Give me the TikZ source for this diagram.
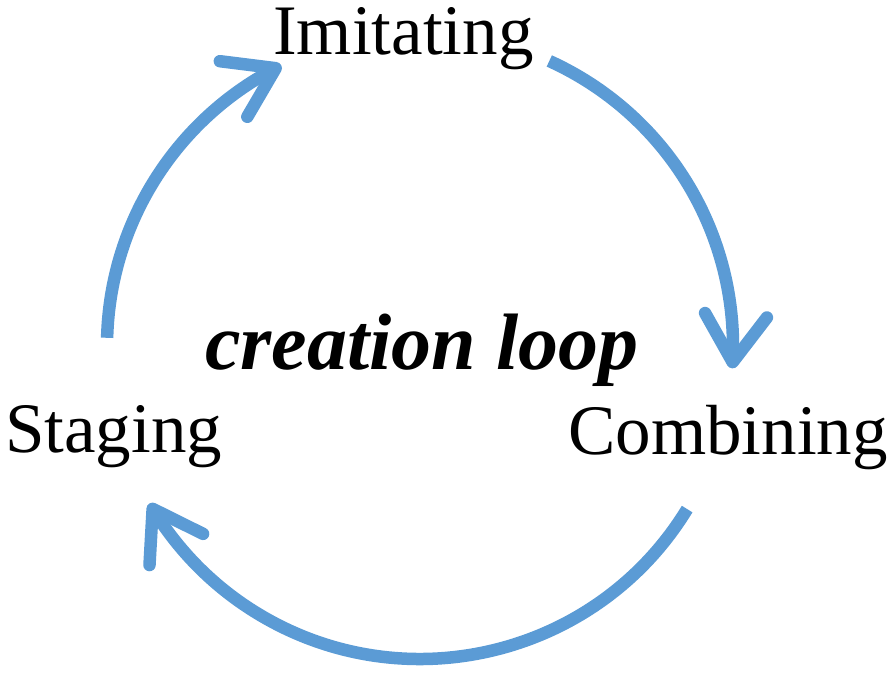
\documentclass[tikz,border=0pt]{standalone}
\usepackage{fontspec}
\setmainfont{Liberation Serif}
\usetikzlibrary{arrows.meta,bending}
\definecolor{loopblue}{HTML}{5B9BD5}
\begin{document}
\begin{tikzpicture}[x=1pt,y=1pt,
  lbl/.style={anchor=base west, inner sep=0pt, font=\fontsize{71}{80}\selectfont},
  title/.style={anchor=base west, inner sep=0pt, font=\fontsize{80}{90}\selectfont\bfseries\itshape},
  loopline/.style={draw=loopblue, line width=12.5pt,
    -{Straight Barb[length=47pt, width=62pt, round, flex]}}]
\useasboundingbox (0,0) rectangle (894,677);
\node[lbl] (imit) at (273,622) {Imitating};
\node[lbl] (stag) at (5,224) {Staging};
\node[lbl] (comb) at (568,222) {Combining};
\node[title] (loop) at (205,307) {creation loop};
\coordinate (c) at (420,331);
\coordinate (s1) at ([shift={(178.5:313)}]c);
\coordinate (s2) at ([shift={(65.6:313)}]c);
\coordinate (s3) at ([shift={(-31.4:313)}]c);
\draw[loopline] (s1) arc[start angle=178.5, end angle=116.3, radius=313];
\draw[loopline] (s2) arc[start angle=65.6, end angle=-4.1, radius=313];
\draw[loopline] (s3) arc[start angle=-31.4, end angle=-149.8, radius=313];
\end{tikzpicture}
\end{document}
